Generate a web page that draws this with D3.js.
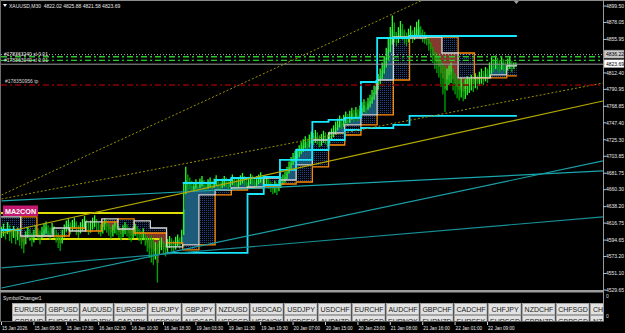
<!DOCTYPE html>
<html><head><meta charset="utf-8">
<script src="https://cdn.jsdelivr.net/npm/d3@7"></script>
<style>html,body{margin:0;padding:0;background:#000;overflow:hidden}text{font-family:"Liberation Sans",Arial,sans-serif}</style>
</head><body>
<svg id="c" width="625" height="333"></svg>
<script>
// ---------------- DATA ----------------
const highs = [4612,4616,4610,4618,4614,4609,4613,4607,4611,4605,
4600,4597,4606,4612,4609,4604,4608,4614,4610,4607,
4612,4616,4619,4614,4611,4617,4613,4608,4604,4600,
4608,4615,4620,4623,4618,4621,4624,4619,4614,4618,
4622,4626,4621,4617,4620,4624,4627,4622,4618,4615,
4619,4623,4620,4616,4612,4615,4619,4617,4613,4610,
4614,4618,4615,4611,4608,4612,4616,4613,4609,4606,
4610,4604,4600,4597,4601,4596,4592,4590,4594,4598,
4593,4590,4596,4600,4597,4594,4599,4602,4598,4608,
4668,4690,4680,4676,4672,4670,4674,4671,4675,4678,
4673,4670,4674,4676,4672,4675,4679,4674,4671,4675,
4678,4676,4672,4675,4680,4677,4674,4676,4679,4682,
4678,4675,4677,4681,4679,4676,4678,4680,4683,4679,
4676,4678,4674,4671,4668,4672,4669,4673,4677,4680,
4684,4690,4697,4703,4708,4711,4714,4718,4722,4726,
4730,4727,4732,4736,4734,4738,4735,4731,4733,4737,
4735,4732,4736,4740,4744,4749,4753,4757,4754,4758,
4762,4759,4763,4767,4764,4768,4765,4770,4774,4778,
4775,4780,4784,4790,4796,4803,4811,4818,4826,4834,
4845,4857,4872,4887,4878,4866,4872,4880,4876,4869,
4865,4870,4874,4868,4872,4879,4882,4873,4869,4866,
4862,4858,4852,4846,4840,4838,4834,4829,4825,4821,
4818,4822,4826,4818,4812,4808,4803,4806,4800,4804,
4808,4806,4810,4807,4812,4809,4814,4818,4815,4820,
4818,4826,4833,4830,4835,4832,4829,4834,4830,4827,
4831,4833,4828,4826,4825.88];
const lows = [4598,4600,4596,4603,4594,4591,4598,4590,4595,4588,
4584,4578,4590,4598,4594,4587,4592,4600,4596,4590,
4597,4601,4604,4599,4596,4603,4598,4592,4585,4581,
4591,4599,4606,4608,4603,4607,4610,4602,4598,4604,
4608,4611,4606,4602,4605,4609,4612,4607,4603,4600,
4604,4608,4605,4601,4597,4600,4604,4602,4598,4595,
4599,4603,4600,4596,4593,4597,4601,4598,4594,4590,
4595,4588,4580,4572,4566,4563,4570,4540,4576,4582,
4577,4574,4580,4585,4581,4578,4583,4587,4584,4590,
4602,4655,4660,4662,4658,4660,4662,4659,4663,4665,
4661,4659,4662,4664,4660,4663,4666,4662,4660,4663,
4665,4664,4661,4664,4667,4665,4662,4664,4667,4669,
4666,4663,4665,4668,4667,4664,4666,4668,4670,4667,
4664,4666,4662,4658,4655,4657,4654,4659,4663,4667,
4670,4675,4682,4688,4693,4697,4700,4703,4707,4710,
4715,4712,4716,4721,4719,4722,4720,4716,4718,4722,
4720,4717,4721,4725,4729,4733,4738,4742,4740,4743,
4747,4744,4748,4752,4749,4753,4750,4755,4759,4762,
4760,4765,4768,4773,4778,4785,4791,4798,4805,4812,
4820,4830,4840,4850,4853,4848,4852,4858,4856,4851,
4848,4853,4857,4852,4856,4860,4862,4857,4853,4851,
4849,4842,4834,4826,4818,4813,4807,4795,4785,4762,
4790,4797,4800,4790,4785,4780,4777,4781,4776,4779,
4784,4787,4790,4788,4793,4791,4796,4799,4797,4802,
4800,4806,4812,4814,4818,4816,4813,4817,4815,4812,
4816,4818,4814,4818,4821.58];

// H4-step indicator levels (one per 8-bar block); null = not shown
const whiteStep  = [4624.8,4600.0,4600.0,4610.4,4606.5,4618.3,4622.2,4609.1,4619.6,4610.4,4585.7,4588.3,4653.4,4659.9,4662.5,4663.8,4675.5,4672.9,4692.5,4725.0,4734.1,4744.6,4757.6,4803.1,4859.1,4857.8,4859.1,4838.3,4805.8,4805.8,4809.7,4821.4];
const orangeStep = [4607.8,4624.8,4600.0,4600.0,4610.4,4606.5,4618.3,4622.2,4603.9,4603.9,4590.9,4581.8,4588.3,4653.4,4659.9,4662.5,4663.8,4667.7,4670.3,4689.9,4718.5,4731.5,4744.6,4757.6,4803.1,4859.1,4859.1,4859.1,4838.3,4805.8,4805.8,4808.4];
const cyanUpper  = [null,null,null,null,null,null,null,null,null,null,null,4669.0,4669.0,4672.9,4675.5,4675.5,4676.8,4699.0,4712.0,4748.5,4751.1,4753.7,4800.5,4857.8,4857.8,4860.4,4860.4,4860.4,4860.4,4860.4,4860.4,4860.4];
const cyanLower  = [4607.8,null,null,null,null,null,null,null,null,null,4577.9,4577.9,4577.9,4577.9,4577.9,4654.7,4666.4,4686.0,4699.0,4712.0,4725.0,4738.0,4740.6,4740.6,4744.6,4756.3,4756.3,4756.3,4756.3,4756.3,4756.3,4756.3];

// yellow level segments: [fromBar, toBar, price]
const yellowLevels = [[0,90,4630.0],[14,78,4596.1]];
// trend lines: [bar1, price1, bar2, price2]
const tealLines   = [[0,4645.6,297,4684.7],[0,4532.3,297,4697.7],[0,4558.4,297,4624.8]];
const oliveLine   = [0,4603.9,297,4775.8];
const dottedLines = [[0,4648.2,297,4799.2],[0,4653.4,208,4907.3]];

const priceTicks = [4899.50,4878.05,4855.95,4812.40,4790.95,4768.85,4747.40,4725.30,4703.85,4681.75,4660.30,4638.20,4616.75,4594.65,4573.20,4551.10,4529.65];
const timeLabels = ["15 Jan 2026","15 Jan 09:30","15 Jan 17:30","16 Jan 02:30","16 Jan 10:30","16 Jan 18:30","19 Jan 03:30","19 Jan 11:30","19 Jan 19:30","20 Jan 07:00","20 Jan 15:00","20 Jan 23:00","21 Jan 08:00","21 Jan 16:00","22 Jan 01:00","22 Jan 09:00"];
const labelEvery = 16;

const markerPrice = 4836.22, bidPrice = 4823.69;
const entryPrices = [4833.4, 4828.6];
const tpPrice = 4796.6;
const orderTexts = ["#178363240 sl 0.01","#178363040 sl 0.01"];
const tpText = "#178350956 tp";
const headerText = "XAUUSD,M30  4822.02 4825.88 4821.58 4823.69";

const symbolsRow1 = ["EURUSD","GBPUSD","AUDUSD","EURGBP","EURJPY","GBPJPY","NZDUSD","USDCAD","USDJPY","USDCHF","EURCHF","AUDCHF","GBPCHF","CADCHF","CHFJPY","NZDCHF","CHFSGD","CHFHKD"];
const symbolsRow2 = ["GBPAUD","EURCAD","AUDJPY","CADJPY","USDDKK","AUDCAD","USDSGD","USDNOK","USDSEK","AUDNZD","AUDSGD","EURNOK","EURNZD","EURSEK","EURSGD","GBPNZD","GBPSGD","NZDSGD"];

// ---------------- CHART ----------------
const svg = d3.select("#c");
const W = 625, H = 333, axisX = 603, mainBottom = 290;
const n = highs.length;
const x = d3.scaleLinear().domain([0, n-1]).range([1.5, 1.5 + (n-1)*2.025]);
const y = d3.scaleLinear().domain([4529.65, 4899.50]).range([290, 6]);
const bw = 2.025;

svg.append("rect").attr("width",W).attr("height",H).attr("fill","#000");
const defs = svg.append("defs");
defs.append("clipPath").attr("id","mainClip").append("rect").attr("x",1).attr("y",1).attr("width",axisX-1).attr("height",mainBottom-1);
defs.append("clipPath").attr("id","subClip").append("rect").attr("x",1).attr("y",293).attr("width",axisX-1).attr("height",28.5);
const pat = defs.append("pattern").attr("id","dots").attr("width",2).attr("height",2).attr("patternUnits","userSpaceOnUse");
pat.append("rect").attr("width",2).attr("height",2).attr("fill","#02050c");
pat.append("rect").attr("width",1).attr("height",1).attr("fill","#24447a");

const g = svg.append("g").attr("clip-path","url(#mainClip)");
const nSeg = whiteStep.length;
const segOf = i => i < 10 ? 0 : Math.min(nSeg-1, Math.floor((i-2)/8));
const segStartX = k => k === 0 ? x(0) - bw/2 : x(8*k+2) - bw/2;
const segEndX = k => k === nSeg-1 ? x(n-1) + bw/2 : x(8*k+10) - bw/2;

// blue / brown cloud between price and white step
const mids = highs.map((h,i)=>(h+lows[i])/2);
g.append("g").selectAll("rect").data(mids).join("rect")
  .attr("x",(d,i)=>x(i)-bw/2).attr("width",bw+0.3)
  .attr("y",(d,i)=>Math.min(y(d),y(whiteStep[segOf(i)])))
  .attr("height",(d,i)=>Math.abs(y(d)-y(whiteStep[segOf(i)])))
  .attr("fill",(d,i)=> d >= whiteStep[segOf(i)] ? "#1d5b7b" : "#843b2e");

// dotted band between white and orange
g.append("g").selectAll("rect").data(whiteStep).join("rect")
  .attr("x",(d,k)=>segStartX(k)).attr("width",(d,k)=>segEndX(k)-segStartX(k))
  .attr("y",(d,k)=>Math.min(y(d),y(orangeStep[k])))
  .attr("height",(d,k)=>Math.abs(y(d)-y(orangeStep[k])))
  .attr("fill","url(#dots)");

// yellow levels
g.append("g").selectAll("line").data(yellowLevels).join("line")
  .attr("x1",d=>x(d[0])-1).attr("x2",d=>x(d[1])).attr("y1",d=>y(d[2])).attr("y2",d=>y(d[2]))
  .attr("stroke","#dede00").attr("stroke-width",2);

// price bars
g.append("g").selectAll("line").data(highs).join("line")
  .attr("x1",(d,i)=>x(i)).attr("x2",(d,i)=>x(i))
  .attr("y1",d=>y(d)).attr("y2",(d,i)=>y(lows[i])+0.5)
  .attr("stroke",(d,i)=> (i===0 || mids[i] >= mids[i-1]) ? "#2bff2b" : "#00a800")
  .attr("stroke-width",1.3);

// step lines (null levels break the line)
function stepPath(arr){
  const p = d3.path(); let open = false;
  arr.forEach((v,k)=>{
    if (v == null) { open = false; return; }
    const yy = y(v);
    if (!open) p.moveTo(segStartX(k), yy); else p.lineTo(segStartX(k), yy);
    p.lineTo(segEndX(k), yy); open = true;
  });
  return p.toString();
}
[[orangeStep,"#ff8a00",1.3],[whiteStep,"#d4d4d4",1.3],[cyanLower,"#19e6ff",1.8],[cyanUpper,"#19e6ff",1.8]].forEach(([arr,col,w])=>{
  g.append("path").attr("d",stepPath(arr)).attr("fill","none").attr("stroke",col).attr("stroke-width",w);
});

// trend lines
function tline(d,col,w,dash){
  g.append("line").attr("x1",x(d[0])).attr("y1",y(d[1])).attr("x2",x(d[2])).attr("y2",y(d[3]))
   .attr("stroke",col).attr("stroke-width",w).attr("stroke-dasharray",dash||null);
}
tealLines.forEach((d,i)=>tline(d, ["#1aa6ad","#1a9fa6","#178f96"][i], 1.2));
tline(oliveLine,"#b4aa00",1.2);
dottedLines.forEach(d=>tline(d,"#9a9000",1,"2,2"));

// order lines
const hl = (p,col,dash,w)=>svg.append("line").attr("x1",1).attr("x2",axisX).attr("y1",y(p)).attr("y2",y(p))
  .attr("stroke",col).attr("stroke-width",w||1).attr("stroke-dasharray",dash||null);
hl(markerPrice,"#a8a8a8","1,2");
entryPrices.forEach(p=>hl(p,"#2ec82e","6,3,2,3",1.3));
hl(bidPrice,"#9a9a9a",null,1);
hl(tpPrice,"#8b0000","6,3,2,3",1.3);

// order texts
svg.append("text").attr("x",4).attr("y",y(markerPrice)+1.5).attr("font-size",5).attr("fill","#e6e6e6").text(orderTexts[0]);
svg.append("text").attr("x",4).attr("y",y(entryPrices[1])+1.2).attr("font-size",5).attr("fill","#e6e6e6").text(orderTexts[1]);
svg.append("text").attr("x",5).attr("y",y(tpPrice)-2.5).attr("font-size",5).attr("fill","#d8d8d8").text(tpText);

// MA2CON label
svg.append("rect").attr("x",3).attr("y",205.5).attr("width",35).attr("height",10.5).attr("fill","#c2186d");
svg.append("text").attr("x",20.5).attr("y",213.6).attr("text-anchor","middle").attr("font-size",7.2).attr("font-weight","bold").attr("fill","#fff").text("MA2CON");

// header
svg.append("path").attr("d","M3,4 L7,4 L5,7 Z").attr("fill","#fff");
svg.append("text").attr("x",9).attr("y",7.5).attr("font-size",5).attr("fill","#e8e8e8").attr("xml:space","preserve").text(headerText);

// frame
svg.append("line").attr("x1",0).attr("x2",W).attr("y1",0.5).attr("y2",0.5).attr("stroke","#8c8c8c");
svg.append("line").attr("x1",0.5).attr("x2",0.5).attr("y1",0).attr("y2",322).attr("stroke","#6e6e6e");
svg.append("line").attr("x1",axisX+0.5).attr("x2",axisX+0.5).attr("y1",0).attr("y2",322).attr("stroke","#9a9a9a");
svg.append("path").attr("d",`M${x(n-1)-2},1 L${x(n-1)+3},1 L${x(n-1)+0.5},4 Z`).attr("fill","#a0a0a0");

// price axis
const pa = svg.append("g");
priceTicks.forEach(v=>{
  pa.append("line").attr("x1",axisX).attr("x2",axisX+3).attr("y1",y(v)).attr("y2",y(v)).attr("stroke","#bbb");
  pa.append("text").attr("x",606).attr("y",y(v)+1.8).attr("font-size",5).attr("fill","#e8e8e8").text(v.toFixed(2));
});
function priceBox(p,yy,bg,txt){
  pa.append("rect").attr("x",604).attr("y",yy-4).attr("width",20).attr("height",8).attr("fill",bg).attr("stroke","#777").attr("stroke-width",0.5);
  pa.append("text").attr("x",606).attr("y",yy+1.8).attr("font-size",5).attr("fill","#000").text(txt);
}
priceBox(markerPrice, y(markerPrice)-0.5, "#c8c8c8", markerPrice.toFixed(2));
priceBox(bidPrice, y(bidPrice)-0.5, "#ffffff", bidPrice.toFixed(2));

// sub window (SymbolChanger)
svg.append("rect").attr("x",0).attr("y",290).attr("width",axisX+1).attr("height",2.5).attr("fill","#9c9c9c");
svg.append("text").attr("x",3).attr("y",299.5).attr("font-size",5).attr("fill","#e0e0e0").text("SymbolChanger1");
svg.append("text").attr("x",606).attr("y",298).attr("font-size",5).attr("fill","#ddd").text("0");
svg.append("text").attr("x",606).attr("y",318).attr("font-size",5).attr("fill","#ddd").text("0");
const sub = svg.append("g").attr("clip-path","url(#subClip)");
[[symbolsRow1,303],[symbolsRow2,315]].forEach(([row,top])=>{
  row.forEach((s,j)=>{
    const bx = 12 + j*34;
    sub.append("rect").attr("x",bx+0.5).attr("y",top+0.5).attr("width",32.5).attr("height",11)
      .attr("fill","#e2e2e2").attr("stroke","#a4a4a4").attr("stroke-width",1);
    const clipped = bx + 33 > axisX;
    sub.append("text").attr("x",clipped ? bx+3 : bx+17).attr("y",top+8.6)
      .attr("text-anchor",clipped ? "start" : "middle").attr("font-size",7).attr("fill","#1c1c1c")
      .text(clipped ? s.slice(0,2) : s);
  });
});
svg.append("line").attr("x1",0).attr("x2",axisX+1).attr("y1",321.5).attr("y2",321.5).attr("stroke","#5a5a5a");

// time axis
timeLabels.forEach((t,j)=>{
  const xi = x(j*labelEvery);
  svg.append("line").attr("x1",xi).attr("x2",xi).attr("y1",322).attr("y2",325).attr("stroke","#ccc");
  svg.append("text").attr("x",xi+0.5).attr("y",329.5).attr("font-size",4.6).attr("fill","#e8e8e8").text(t);
});
</script>
</body></html>
